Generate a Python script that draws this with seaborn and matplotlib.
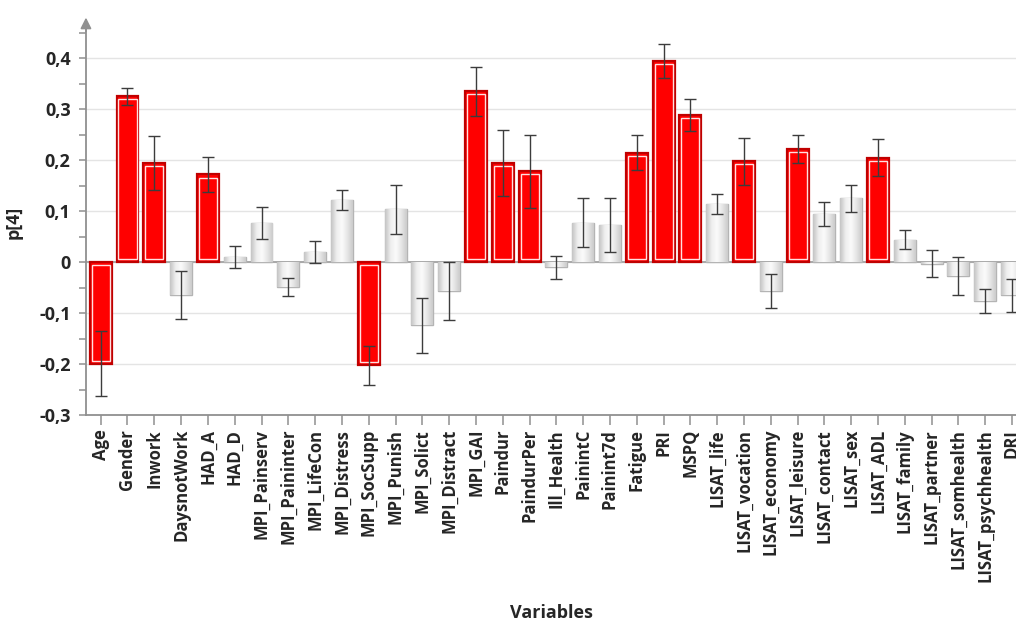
import numpy as np
import pandas as pd
import matplotlib
matplotlib.use("Agg")
import matplotlib.pyplot as plt
import matplotlib.ticker as mticker
from matplotlib.patches import Rectangle
from matplotlib.colors import LinearSegmentedColormap
import seaborn as sns

# loadings p[4] with jack-knifed confidence intervals
variables = [
    "Age", "Gender", "Inwork", "DaysnotWork", "HAD_A", "HAD_D",
    "MPI_Painserv", "MPI_Paininter", "MPI_LifeCon", "MPI_Distress",
    "MPI_SocSupp", "MPI_Punish", "MPI_Solict", "MPI_Distract", "MPI_GAI",
    "Paindur", "PaindurPer", "Ill_Health", "PainintC", "Painint7d",
    "Fatigue", "PRI", "MSPQ", "LISAT_life", "LISAT_vocation",
    "LISAT_economy", "LISAT_leisure", "LISAT_contact", "LISAT_sex",
    "LISAT_ADL", "LISAT_family", "LISAT_partner", "LISAT_somhealth",
    "LISAT_psychhealth", "DRI",
]
loadings = [
    -0.199, 0.325, 0.195, -0.065, 0.172, 0.010,
    0.077, -0.049, 0.020, 0.122,
    -0.202, 0.104, -0.124, -0.057, 0.335,
    0.194, 0.178, -0.010, 0.077, 0.073,
    0.215, 0.395, 0.289, 0.114, 0.198,
    -0.057, 0.222, 0.094, 0.125,
    0.205, 0.044, -0.003, -0.027,
    -0.076, -0.065,
]
ci = [
    0.063, 0.016, 0.053, 0.047, 0.034, 0.021,
    0.032, 0.017, 0.021, 0.020,
    0.038, 0.048, 0.054, 0.057, 0.048,
    0.065, 0.071, 0.023, 0.048, 0.053,
    0.034, 0.033, 0.031, 0.020, 0.046,
    0.033, 0.028, 0.024, 0.027,
    0.036, 0.019, 0.026, 0.038,
    0.023, 0.032,
]
highlighted = [
    "Age", "Gender", "Inwork", "HAD_A", "MPI_SocSupp", "MPI_GAI",
    "Paindur", "PaindurPer", "Fatigue", "PRI", "MSPQ",
    "LISAT_vocation", "LISAT_leisure", "LISAT_ADL",
]

df = pd.DataFrame({"var": variables, "p4": loadings, "ci": ci})
df["sig"] = df["var"].isin(highlighted)

sns.set_style("white")
plt.rcParams["font.family"] = ["Open Sans", "DejaVu Sans"]

fig = plt.figure(figsize=(10.16, 6.28), dpi=100)
ax = fig.add_axes([0.0846, 0.339, 0.9154, 0.613])

colors = ["#ff0000" if s else "#dcdcdc" for s in df["sig"]]
sns.barplot(data=df, x="var", y="p4", hue="var", palette=colors, legend=False,
            width=0.82, errorbar=None, saturation=1, ax=ax, zorder=3, linewidth=0)

gray_cmap = LinearSegmentedColormap.from_list(
    "bar", ["#c4c4c4", "#eeeeee", "#fbfbfb", "#e6e6e6", "#cbcbcb"])
grad = np.linspace(0, 1, 64).reshape(1, -1)

for patch, sig in zip(ax.patches, df["sig"]):
    x0, y0 = patch.get_x(), patch.get_y()
    w, h = patch.get_width(), patch.get_height()
    if sig:
        patch.set_edgecolor("#c00000")
        patch.set_linewidth(1.6)
        inset_x = w * 0.09
        inset_y = 0.006 * np.sign(h)
        inner = Rectangle((x0 + inset_x, y0 + inset_y), w - 2 * inset_x,
                          h - 2 * inset_y, fill=False, edgecolor="#ffe0e0",
                          linewidth=1.0, zorder=4)
        ax.add_patch(inner)
    else:
        patch.set_edgecolor("#b4b4b4")
        patch.set_linewidth(1.0)
        ymin, ymax = sorted([y0, y0 + h])
        im = ax.imshow(grad, extent=[x0, x0 + w, ymin, ymax], aspect="auto",
                       cmap=gray_cmap, zorder=3.5, interpolation="bicubic")
        im.set_clip_path(patch)

xpos = np.arange(len(df))
ax.errorbar(xpos, df["p4"], yerr=df["ci"], fmt="none", ecolor="#3c3c3c",
            elinewidth=1.0, capsize=4.5, capthick=1.0, zorder=5)

ax.axhline(0, color="#a8a8a8", lw=1.4, zorder=2)

ax.set_xlim(-0.55, len(df) - 1 + 0.15)
ax.set_ylim(-0.3, 0.455)
ax.yaxis.set_major_locator(mticker.FixedLocator([-0.3, -0.2, -0.1, 0, 0.1, 0.2, 0.3, 0.4]))
ax.yaxis.set_minor_locator(mticker.FixedLocator([-0.25, -0.15, -0.05, 0.05, 0.15, 0.25, 0.35, 0.45]))
ax.yaxis.set_major_formatter(mticker.FuncFormatter(
    lambda v, _: "0" if abs(v) < 1e-9 else f"{v:.1f}".replace(".", ",")))
ax.yaxis.grid(True, which="major", color="#e4e4e4", lw=1.0, zorder=0)
ax.set_axisbelow(True)

for s in ["top", "right"]:
    ax.spines[s].set_visible(False)
for s in ["left", "bottom"]:
    ax.spines[s].set_color("#909090")
    ax.spines[s].set_linewidth(1.3)

ax.tick_params(axis="y", which="both", direction="out", length=5, width=1.1,
               color="#909090", labelsize=13, pad=6, left=True)
ax.tick_params(axis="x", direction="out", length=7, width=1.1, color="#909090",
               labelsize=12, pad=3, bottom=True)
for lbl in ax.get_yticklabels():
    lbl.set_fontweight("bold")
ax.set_xticks(xpos)
ax.set_xticklabels(df["var"], rotation=90, fontweight="bold")

ax.annotate("", xy=(0, 1.04), xytext=(0, 0.99), xycoords="axes fraction",
            arrowprops=dict(arrowstyle="-|>", color="#909090", lw=1.3,
                            mutation_scale=16), annotation_clip=False)

ax.set_ylabel("p[4]", fontweight="bold", fontsize=13, labelpad=12)
ax.set_xlabel("Variables", fontweight="bold", fontsize=13, labelpad=16)

fig.savefig("out.png", dpi=100)
